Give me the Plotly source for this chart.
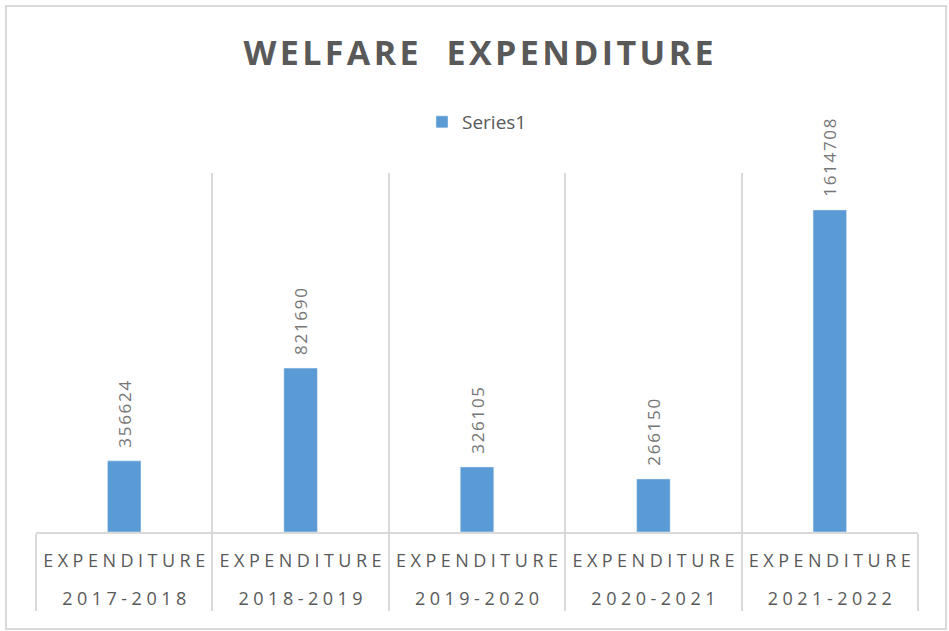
import plotly.graph_objects as go

years = ["2017-2018", "2018-2019", "2019-2020", "2020-2021", "2021-2022"]
level = ["EXPENDITURE"] * 5
values = [356624, 821690, 326105, 266150, 1614708]

def spaced(s, sep):
    return sep.join(list(s))

AX_SP = "\u2005"
fig = go.Figure()
fig.add_trace(go.Bar(
    x=[["\u00a0<br>" + spaced(y, AX_SP) for y in years],
       [spaced(l, AX_SP) for l in level]],
    y=values,
    name="Series1",
    marker=dict(color="#5b9bd5"),
    width=0.19,
    text=["\u2002\u200a" + spaced(str(v), "\u200a") for v in values],
    textposition="outside",
    textangle=-90,
    constraintext="none",
    textfont=dict(family="Open Sans", size=17, color="#767676"),
    cliponaxis=False,
    hoverinfo="skip",
))

fig.update_layout(
    width=949, height=631,
    margin=dict(l=36, r=31, t=173, b=99, autoexpand=False),
    paper_bgcolor="white", plot_bgcolor="white",
    title=dict(text="<b>" + spaced("WELFARE  EXPENDITURE", "\u200a") + "</b>",
               x=(36 + 882 / 2 + 1.5) / 949, xanchor="center",
               y=1 - 53 / 631, yanchor="middle",
               font=dict(family="Open Sans", size=34, color="#595959")),
    showlegend=True,
    legend=dict(orientation="h", x=0.5, xanchor="center", y=1 + (173 - 122) / 359, yanchor="middle",
                font=dict(family="Open Sans", size=19, color="#595959")),
    xaxis=dict(type="multicategory", showgrid=True, gridcolor="#d9d9d9", gridwidth=2,
               tickson="boundaries", ticks="", showline=True, linecolor="#d9d9d9", linewidth=2,
               showdividers=True, dividercolor="#d9d9d9", dividerwidth=2,
               tickfont=dict(family="Open Sans", size=18, color="#595959"),
               ticklabelstandoff=11,
               tickangle=0, automargin=False, mirror=False),
    yaxis=dict(range=[0, 1800000], showgrid=False, showticklabels=False, zeroline=False,
               showline=False, automargin=False),
    shapes=[dict(type="rect", xref="paper", yref="paper",
                 x0=(6 - 36) / 882, x1=(946 - 36) / 882,
                 y0=(532 - 629) / 359, y1=(532 - 6) / 359,
                 line=dict(color="#d9d9d9", width=2), layer="below")],
)

fig.write_html("out.html", config={"displayModeBar": False},
               post_script="document.body.style.margin='0';document.body.style.overflow='hidden';")
